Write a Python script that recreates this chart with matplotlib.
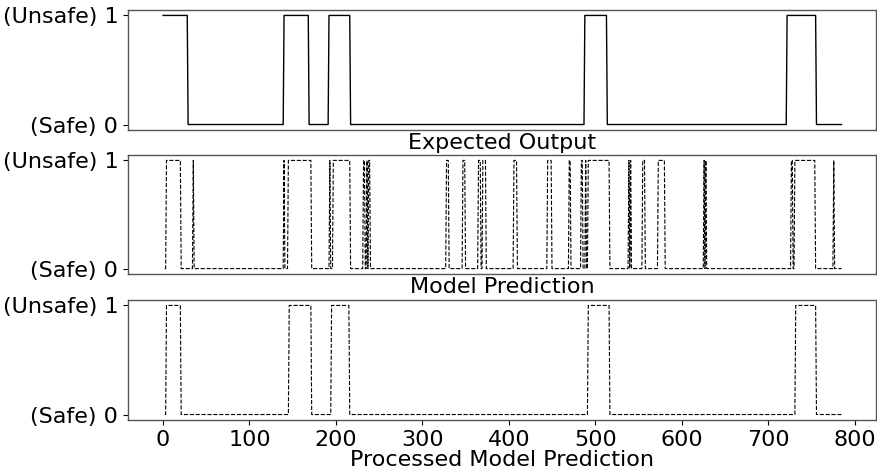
"""Safe/unsafe signal comparison: expected vs raw vs processed model prediction."""

import matplotlib
matplotlib.use("Agg")
import matplotlib.pyplot as plt
import numpy as np

# number of samples along the x axis
N_SAMPLES = 786

# unsafe (value 1) intervals, [start, end) in sample index
expected_unsafe = [(0, 29), (140, 169), (192, 217), (488, 514), (722, 756)]
model_unsafe = [
    (4, 21), (35, 36), (140, 141), (145, 172), (193, 194), (197, 217),
    (232, 234), (236, 237), (238, 240), (328, 331), (347, 350), (365, 368),
    (370, 374), (406, 410), (445, 450), (470, 472), (484, 486), (489, 490),
    (492, 517), (539, 540), (541, 542), (555, 558), (573, 581), (626, 627),
    (628, 629), (727, 729), (731, 755), (776, 777),
]
processed_unsafe = [(4, 21), (146, 172), (195, 216), (492, 517), (732, 756)]
# sample where each series begins
series_start = {"expected": 0, "model": 2, "processed": 2}

panel_titles = ["Expected Output", "Model Prediction", "Processed Model Prediction"]
y_ticklabels = ["(Safe) 0", "(Unsafe) 1"]


def build_signal(intervals, start):
    x = np.arange(start, N_SAMPLES)
    y = np.zeros(x.size)
    for lo, hi in intervals:
        y[(x >= lo) & (x < hi)] = 1.0
    return x, y


plt.rcParams["font.family"] = "DejaVu Sans"
plt.rcParams["font.size"] = 16

fig = plt.figure(figsize=(8.77, 4.73), dpi=100)
left, width = 0.146, 0.853
axes = [
    fig.add_axes([left, 0.7252, width, 0.2537]),
    fig.add_axes([left, 0.4207, width, 0.2516]),
    fig.add_axes([left, 0.1121, width, 0.2537]),
]

series = [
    (expected_unsafe, series_start["expected"], "-", 1.0),
    (model_unsafe, series_start["model"], "--", 0.8),
    (processed_unsafe, series_start["processed"], "--", 0.8),
]

for ax, (intervals, start, ls, lw), title in zip(axes, series, panel_titles):
    x, y = build_signal(intervals, start)
    ax.plot(x, y, color="black", linestyle=ls, linewidth=lw)
    ax.set_xlim(-40.5, 825)
    ax.set_yticks([0, 1])
    ax.set_yticklabels(y_ticklabels)
    ax.set_xlabel(title, labelpad=2)
    for spine in ax.spines.values():
        spine.set_color("#555555")
        spine.set_linewidth(1.0)

for ax in axes[:2]:
    ax.set_xticks([])

axes[2].set_xticks(np.arange(0, 801, 100))
axes[2].xaxis.labelpad = 0

fig.savefig("out.png", dpi=100)
